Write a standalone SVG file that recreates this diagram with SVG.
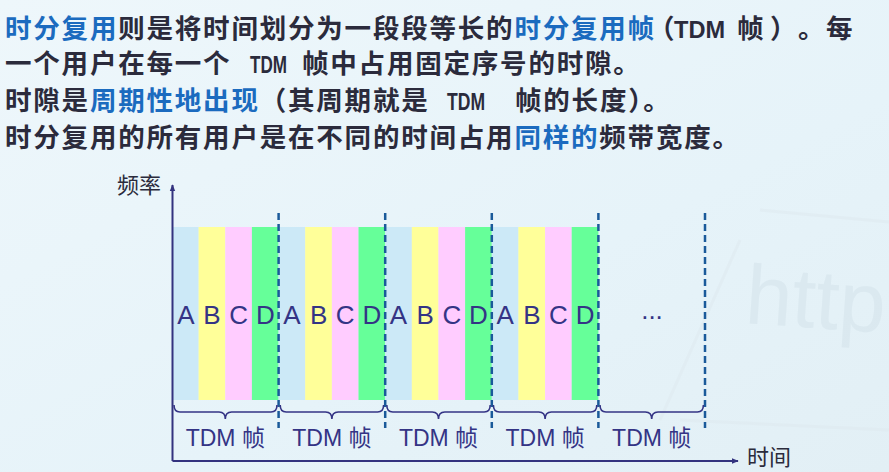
<svg xmlns="http://www.w3.org/2000/svg" width="889" height="472" viewBox="0 0 889 472">
<defs>
<linearGradient id="bg" x1="0" y1="0" x2="1" y2="1">
<stop offset="0" stop-color="#eef7fb"/>
<stop offset="0.6" stop-color="#e6f3f9"/>
<stop offset="1" stop-color="#e2eff5"/>
</linearGradient>
<marker id="arr" viewBox="0 0 10 10" refX="9" refY="5" markerWidth="7" markerHeight="7" orient="auto" markerUnits="userSpaceOnUse">
<path d="M0,1 L10,5 L0,9 Z" fill="#33337f"/>
</marker>
<style>
.t{font-family:"Noto Sans CJK SC","Noto Sans",sans-serif;font-size:26.5px;font-weight:bold;fill:#2b2b3c;letter-spacing:1.8px}
.m{font-family:"Liberation Sans",Arial,sans-serif;font-size:24px;font-weight:bold;letter-spacing:0}
.b{fill:#1b6bbf}
.A{fill:#cce9f7}.B{fill:#ffff99}.C{fill:#ffccff}.D{fill:#66ff99}
.L{font-family:"Liberation Sans",Arial,sans-serif;font-size:26px;fill:#343485;text-anchor:middle}
.f{font-family:"Liberation Sans","Noto Sans CJK SC",sans-serif;font-size:23px;fill:#343485;text-anchor:middle}
.ax{font-family:"Noto Sans CJK SC",sans-serif;font-size:22px;fill:#2b2b3c}
.dash{stroke:#1a5a9a;stroke-width:2.5;stroke-dasharray:7 4;fill:none}
.br{stroke:#343485;stroke-width:1.6;fill:none}
</style>
</defs>
<rect width="889" height="472" fill="url(#bg)"/>
<g id="watermark" opacity="0.5">
<path d="M760,210 L889,222 M740,240 L660,420 M680,420 L889,430" stroke="#dfeaf0" stroke-width="3" fill="none"/>
<text x="744" y="323" font-family="Liberation Sans,sans-serif" font-size="84" fill="#d3e2ea" transform="rotate(4 744 323)">http</text>
</g>
<g id="text">
<text class="t" x="5" y="38"><tspan class="b">时分复用</tspan>则是将时间划分为一段段等长的<tspan class="b">时分复用帧</tspan><tspan x="648">（</tspan><tspan class="m" x="674" textLength="51" lengthAdjust="spacingAndGlyphs">TDM</tspan><tspan x="737">帧</tspan><tspan x="770">）</tspan><tspan x="798">。</tspan><tspan x="826">每</tspan></text>
<text class="t" x="5" y="73">一个用户在每一个<tspan class="m" x="250" textLength="37" lengthAdjust="spacingAndGlyphs">TDM</tspan><tspan x="302">帧中占用固定序号的时隙。</tspan></text>
<text class="t" x="5" y="110">时隙是<tspan class="b">周期性地出现</tspan>（其周期就是<tspan class="m" x="447" textLength="38" lengthAdjust="spacingAndGlyphs">TDM</tspan><tspan x="515">帧的长度）。</tspan></text>
<text class="t" x="5" y="147">时分复用的所有用户是在不同的时间占用<tspan class="b">同样的</tspan>频带宽度。</text>
</g>
<g id="frame1">
<rect class="A" x="172" y="227" width="26.7" height="173"/><rect class="B" x="198.6" y="227" width="26.7" height="173"/><rect class="C" x="225.3" y="227" width="26.7" height="173"/><rect class="D" x="251.9" y="227" width="26.7" height="173"/>
<text class="L" x="185.8" y="324">A</text><text class="L" x="212" y="324">B</text><text class="L" x="238.6" y="324">C</text><text class="L" x="265.3" y="324">D</text>
</g>
<g id="frame2">
<rect class="A" x="278.6" y="227" width="26.7" height="173"/><rect class="B" x="305.2" y="227" width="26.7" height="173"/><rect class="C" x="331.9" y="227" width="26.7" height="173"/><rect class="D" x="358.5" y="227" width="26.7" height="173"/>
<text class="L" x="291.9" y="324">A</text><text class="L" x="318.6" y="324">B</text><text class="L" x="345.2" y="324">C</text><text class="L" x="371.9" y="324">D</text>
</g>
<g id="frame3">
<rect class="A" x="385.2" y="227" width="26.7" height="173"/><rect class="B" x="411.8" y="227" width="26.7" height="173"/><rect class="C" x="438.5" y="227" width="26.7" height="173"/><rect class="D" x="465.1" y="227" width="26.7" height="173"/>
<text class="L" x="398.5" y="324">A</text><text class="L" x="425.2" y="324">B</text><text class="L" x="451.8" y="324">C</text><text class="L" x="478.5" y="324">D</text>
</g>
<g id="frame4">
<rect class="A" x="491.8" y="227" width="26.7" height="173"/><rect class="B" x="518.4" y="227" width="26.7" height="173"/><rect class="C" x="545.1" y="227" width="26.7" height="173"/><rect class="D" x="571.7" y="227" width="26.7" height="173"/>
<text class="L" x="505.1" y="324">A</text><text class="L" x="531.8" y="324">B</text><text class="L" x="558.4" y="324">C</text><text class="L" x="585.1" y="324">D</text>
</g>
<g id="frame5">
<text class="L" x="652" y="319" font-size="22">...</text>
</g>
<g id="connectors">
<path class="dash" d="M278.6,213 V428 M385.2,213 V428 M491.8,213 V428 M598.4,213 V428 M705,213 V428"/>
<path class="br" d="M174,405 Q174,412 180,412 L219,412 Q225.3,412 225.3,419 Q225.3,412 231.6,412 L271,412 Q277,412 277,405"/>
<path class="br" d="M280.2,405 Q280.2,412 286.2,412 L325.6,412 Q331.9,412 331.9,419 Q331.9,412 338.2,412 L377.6,412 Q383.6,412 383.6,405"/>
<path class="br" d="M386.8,405 Q386.8,412 392.8,412 L432.2,412 Q438.5,412 438.5,419 Q438.5,412 444.8,412 L484.2,412 Q490.2,412 490.2,405"/>
<path class="br" d="M493.4,405 Q493.4,412 499.4,412 L538.8,412 Q545.1,412 545.1,419 Q545.1,412 551.4,412 L590.8,412 Q596.8,412 596.8,405"/>
<path class="br" d="M600,405 Q600,412 606,412 L645.4,412 Q651.7,412 651.7,419 Q651.7,412 658,412 L697.4,412 Q703.4,412 703.4,405"/>
<path d="M172.5,461 V185" stroke="#33337f" stroke-width="2" fill="none" marker-end="url(#arr)"/>
<path d="M172.5,461 H738" stroke="#33337f" stroke-width="2" fill="none" marker-end="url(#arr)"/>
</g>
<g id="labels">
<text class="f" x="225.3" y="446">TDM 帧</text>
<text class="f" x="331.9" y="446">TDM 帧</text>
<text class="f" x="438.5" y="446">TDM 帧</text>
<text class="f" x="545.1" y="446">TDM 帧</text>
<text class="f" x="651.7" y="446">TDM 帧</text>
<text class="ax" x="117" y="193">频率</text>
<text class="ax" x="747" y="465">时间</text>
</g>
</svg>
